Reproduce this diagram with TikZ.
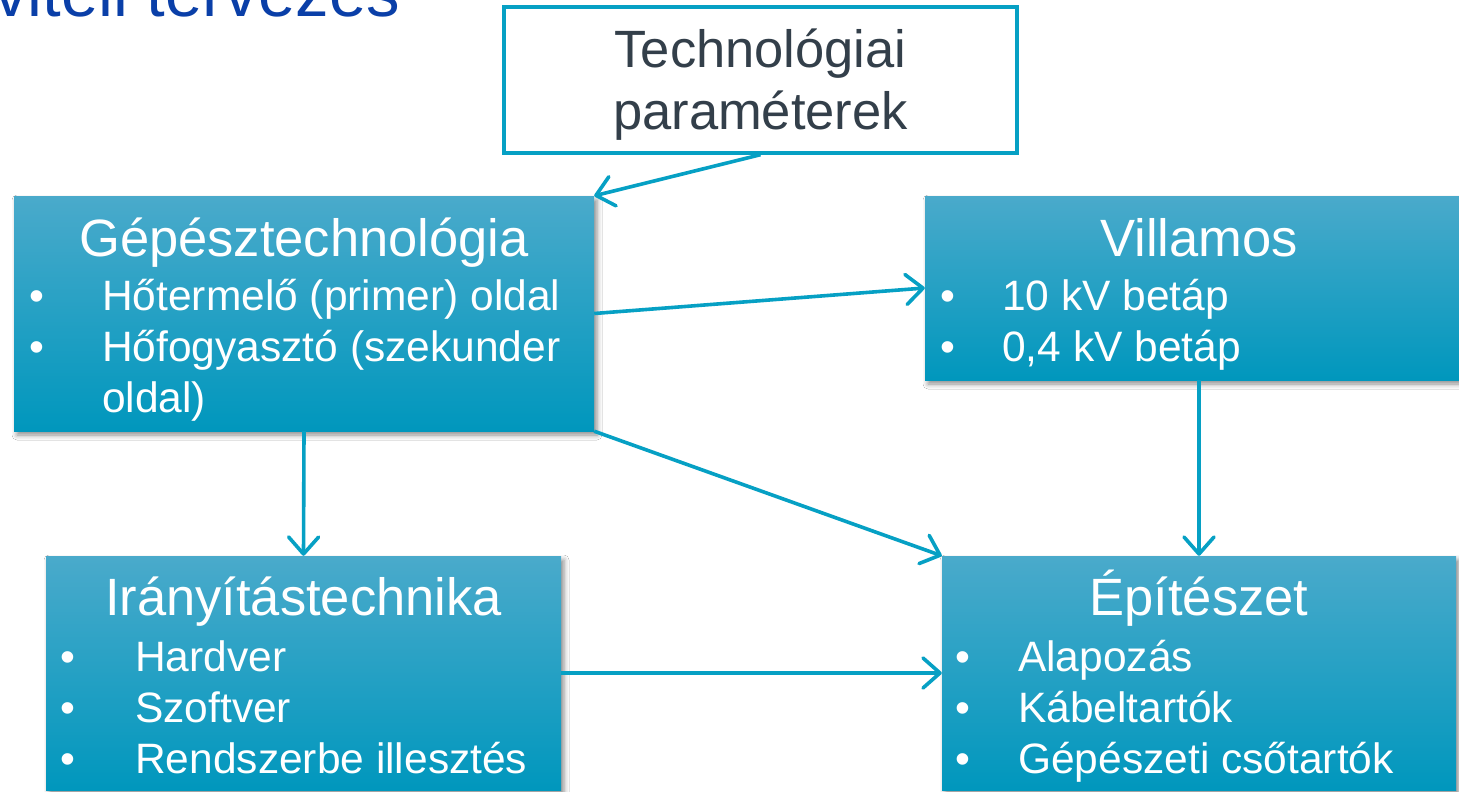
\documentclass[tikz,border=0pt]{standalone}
\usepackage{fontspec}
\setmainfont{Liberation Sans}
\usetikzlibrary{arrows.meta,shadows.blur}

\definecolor{titleblue}{HTML}{0A3FA8}
\definecolor{linkteal}{HTML}{06A0C4}
\definecolor{boxtop}{HTML}{4AAACB}
\definecolor{boxmid}{HTML}{02A3C8}
\definecolor{boxbot}{HTML}{0097BD}
\definecolor{darktext}{HTML}{333F4A}

\begin{document}
\begin{tikzpicture}[x=1pt,y=-1pt,
  box/.style={rectangle, draw=none, inner sep=0pt,
    top color=boxtop, middle color=boxmid, bottom color=boxbot,
    blur shadow={shadow xshift=3pt, shadow yshift=-4pt,
                 shadow blur radius=5pt, shadow opacity=45}},
  plainbox/.style={rectangle, draw=linkteal, line width=3.4pt, fill=white, inner sep=0pt},
  boxtitle/.style={anchor=base, inner sep=0pt, text=white,
    font=\fontsize{52.5pt}{60pt}\selectfont},
  item/.style={anchor=base west, inner sep=0pt, text=white,
    font=\fontsize{42.5pt}{50pt}\selectfont},
  dot/.style={anchor=base, inner sep=0pt, text=white,
    font=\fontsize{42.5pt}{50pt}\selectfont},
  link/.style={draw=linkteal, line width=3.6pt,
    -{Straight Barb[length=17pt,width=30pt,round]}}
]
\clip (0,0) rectangle (1459,792);
\fill[white] (0,0) rectangle (1459,792);

% page heading, mostly above the visible area
\node[anchor=base west, inner sep=0pt, text=titleblue,
      font=\fontsize{67pt}{72pt}\selectfont] (heading) at (-6,17) {viteli tervezés};

% boxes
\node[plainbox, minimum width=513pt, minimum height=146pt] (tech) at (760.5,80) {};
\node[box, minimum width=580pt, minimum height=235pt] (gep) at (304,313.5) {};
\node[box, minimum width=548pt, minimum height=184pt] (vil) at (1199,288) {};
\node[box, minimum width=515pt, minimum height=234pt] (iran) at (303.5,673) {};
\node[box, minimum width=514pt, minimum height=234pt] (epit) at (1199,673) {};

% technology parameters
\node[anchor=base, inner sep=0pt, text=darktext,
      font=\fontsize{52.5pt}{60pt}\selectfont] (techA) at (760.5,67) {Technológiai};
\node[anchor=base, inner sep=0pt, text=darktext,
      font=\fontsize{52.5pt}{60pt}\selectfont] (techB) at (760.5,129) {paraméterek};

% mechanical technology
\node[boxtitle] (gepT) at (304,256) {Gépésztechnológia};
\node[dot] (gepD1) at (37,310) {•};
\node[item] (gepI1) at (102,310) {Hőtermelő (primer) oldal};
\node[dot] (gepD2) at (37,361) {•};
\node[item] (gepI2) at (102,361) {Hőfogyasztó (szekunder};
\node[item] (gepI3) at (102,412) {oldal)};

% electrical
\node[boxtitle] (vilT) at (1199,256) {Villamos};
\node[dot] (vilD1) at (948,310) {•};
\node[item] (vilI1) at (1002,310) {10 kV betáp};
\node[dot] (vilD2) at (948,361) {•};
\node[item] (vilI2) at (1002,361) {0,4 kV betáp};

% control engineering
\node[boxtitle] (iranT) at (303.5,615) {Irányítástechnika};
\node[dot] (iranD1) at (68,671) {•};
\node[item] (iranI1) at (135,671) {Hardver};
\node[dot] (iranD2) at (68,722) {•};
\node[item] (iranI2) at (135,722) {Szoftver};
\node[dot] (iranD3) at (68,773) {•};
\node[item] (iranI3) at (135,773) {Rendszerbe illesztés};

% architecture
\node[boxtitle] (epitT) at (1199,615) {Építészet};
\node[dot] (epitD1) at (963,671) {•};
\node[item] (epitI1) at (1018,671) {Alapozás};
\node[dot] (epitD2) at (963,722) {•};
\node[item] (epitI2) at (1018,722) {Kábeltartók};
\node[dot] (epitD3) at (963,773) {•};
\node[item] (epitI3) at (1018,773) {Gépészeti csőtartók};

% connectors
\draw[link] (tech.south) -- (gep.north east);
\draw[link] (gep.east) -- (vil.west);
\draw[link] (gep.south east) -- (epit.north west);
\draw[link] (gep.south) -- (iran.north);
\draw[link] (vil.south) -- (epit.north);
\draw[link] (iran.east) -- (epit.west);
\end{tikzpicture}
\end{document}
